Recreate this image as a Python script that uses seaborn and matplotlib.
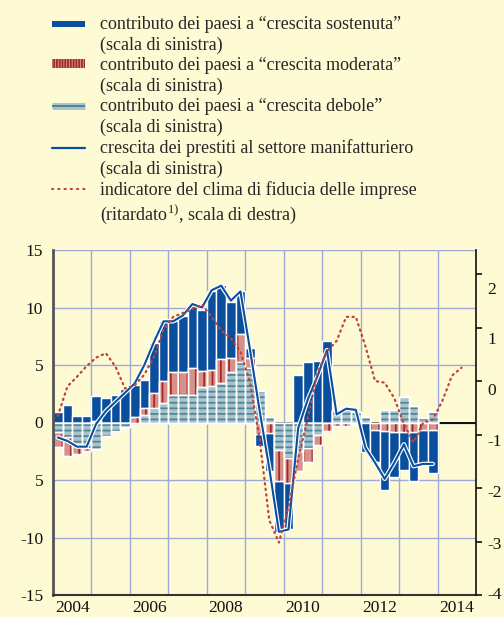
import numpy as np
import pandas as pd
import matplotlib
matplotlib.use("Agg")
import matplotlib.pyplot as plt
import matplotlib.patheffects as pe
from matplotlib.lines import Line2D
from matplotlib.patches import Patch
from matplotlib.legend_handler import HandlerTuple
import seaborn as sns

# quarterly contributions 2004Q1 - 2013Q4 (left scale)
sostenuta = [0.9, 1.5, 0.6, 0.6, 2.2, 2.1, 2.4, 2.9, 2.8, 2.4,
             4.35, 5.15, 4.45, 4.9, 5.7, 5.3, 6.8, 6.5, 4.85, 3.7,
             0.9, -1.0, -3.3, -4.4, -4.0, 4.15, 5.24, 5.36, 7.1, 0.0,
             0.0, 0.0, -2.6, -2.75, -5.1, -3.9, -3.3, -4.3, -2.95, -3.75]
moderata = [-1.3, -1.6, -0.8, -0.3, 0.1, 0.0, 0.0, 0.0, 0.45, 0.65,
            1.3, 1.95, 2.0, 2.0, 2.3, 1.45, 1.4, 2.1, 1.3, 2.4,
            0.9, -1.0, -0.95, -2.7, -2.2, -1.75, -1.15, -0.85, -0.7, -0.3,
            -0.3, -0.1, 0.0, -0.65, -0.75, -0.8, -0.8, -0.8, -0.65, -0.65]
debole = [-0.8, -1.3, -1.9, -2.2, -2.3, -1.2, -0.7, -0.4, 0.0, 0.65,
          1.25, 1.7, 2.4, 2.4, 2.4, 3.05, 3.2, 3.4, 4.35, 5.3,
          4.7, 2.7, 0.5, -2.4, -3.1, -2.5, -2.25, -1.1, 0.0, 1.1,
          1.35, 0.95, 0.5, 0.0, 1.05, 1.05, 2.2, 1.45, 0.4, 0.9]
prestiti = [-1.3, -1.6, -2.1, -2.1, -0.1, 1.0, 1.8, 2.6, 3.4, 5.0,
            7.0, 8.8, 8.8, 9.3, 10.3, 10.0, 11.5, 11.9, 10.6, 11.4,
            6.3, 1.0, -4.0, -9.5, -9.3, -0.5, 2.0, 4.0, 6.3, 0.7,
            1.2, 1.1, -2.2, -3.5, -4.9, -3.5, -1.9, -3.8, -3.6, -3.6]
# business confidence indicator, lagged (right scale), 2004Q1 - 2014Q3
fiducia = [-0.65, -0.1, 0.08, 0.28, 0.44, 0.52, 0.27, -0.14, -0.08, 0.12,
           0.45, 0.96, 1.2, 1.27, 1.35, 1.43, 1.2, 0.95, 0.8, 0.55,
           -0.03, -1.1, -2.6, -3.02, -2.35, -1.45, -0.7, 0.15, 0.55, 0.75,
           1.2, 1.2, 0.65, 0.0, -0.03, -0.32, -0.8, -1.15, -0.78, -0.72,
           -0.37, 0.1, 0.25]

left_ticks = [-15, -10, -5, 0, 5, 10, 15]
left_labels = ["-15", "-10", "5", "0", "5", "10", "15"]
right_ticks = [-4, -3, -2, -1, 0, 1, 2]
right_labels = ["-4", "-3", "-2", "-1", "0", "1", "2"]
# the right-hand labels sit a little off their tick marks in the original
right_label_pos = [-3.97, -3.02, -2.06, -1.11, -0.15, 0.8, 1.74]
year_labels = ["2004", "2006", "2008", "2010", "2012", "2014"]

legend_labels = [
    "contributo dei paesi a \u201ccrescita sostenuta\u201d",
    "(scala di sinistra)",
    "contributo dei paesi a \u201ccrescita moderata\u201d",
    "(scala di sinistra)",
    "contributo dei paesi a \u201ccrescita debole\u201d",
    "(scala di sinistra)",
    "crescita dei prestiti al settore manifatturiero",
    "(scala di sinistra)",
    "indicatore del clima di fiducia delle imprese",
    "(ritardato$^{1)}$, scala di destra)",
]

BG = "#fefad4"
BLUE = "#0a4f9e"
RED_FACE = "#d6928a"
RED_LINE = "#a52a26"
GREY_FACE = "#a9c3cb"
GREY_LINE = "#4f8698"
RED_DOT = "#c0433a"
GRID = "#9ea9d8"

bar_q = pd.period_range("2004Q1", "2013Q4", freq="Q")
conf_q = pd.period_range("2004Q1", "2014Q3", freq="Q")
t_bars = np.array([p.year + (p.quarter - 0.5) / 4 for p in bar_q])
t_conf = np.array([p.year + (p.quarter - 0.5) / 4 for p in conf_q])

sns.set_style("white", {"axes.facecolor": BG, "figure.facecolor": BG})
plt.rcParams["font.family"] = ["Liberation Serif", "DejaVu Serif"]
plt.rcParams["mathtext.fontset"] = "custom"
plt.rcParams["mathtext.rm"] = "Liberation Serif"
plt.rcParams["hatch.linewidth"] = 1.3
plt.rcParams["axes.unicode_minus"] = False
FS = 12.5

fig = plt.figure(figsize=(5.04, 6.17), dpi=100)
ax = fig.add_axes([53 / 504, 1 - 595 / 617, 423 / 504, 345 / 617])
ax.set_facecolor(BG)

g = np.array(debole)
r = np.array(moderata)
b = np.array(sostenuta)
pos = lambda a: np.clip(a, 0, None)
neg = lambda a: np.clip(a, None, 0)

layers = [
    (pos(g) + pos(r) + pos(b), BLUE, None, None),
    (pos(g) + pos(r), RED_FACE, "||", RED_LINE),
    (pos(g), GREY_FACE, "---", GREY_LINE),
    (neg(g) + neg(r) + neg(b), BLUE, None, None),
    (neg(g) + neg(r), RED_FACE, "||", RED_LINE),
    (neg(g), GREY_FACE, "---", GREY_LINE),
]


def draw_layer(h, face, hatch, hcolor):
    keep = np.abs(h) > 1e-9
    d = pd.DataFrame({"t": t_bars[keep], "v": h[keep]})
    common = dict(data=d, x="t", y="v", native_scale=True, orient="x",
                  width=1, errorbar=None, ax=ax, zorder=2)
    sns.barplot(**common, facecolor=face, edgecolor="white", linewidth=1.0)
    if hatch:
        sns.barplot(**common, facecolor="none", edgecolor=hcolor,
                    linewidth=0, hatch=hatch)
        sns.barplot(**common, facecolor="none", edgecolor="white", linewidth=1.0)


for h, face, hatch, hcolor in layers:
    draw_layer(h, face, hatch, hcolor)

ax.axhline(0, color="black", lw=1.3, zorder=1)

sns.lineplot(x=t_bars, y=prestiti, ax=ax, color=BLUE, linewidth=1.5, zorder=5,
             path_effects=[pe.Stroke(linewidth=3.2, foreground="white"), pe.Normal()])

ax.set_xlim(2004, 2015)
ax.set_ylim(-15, 15)
ax.set_yticks(left_ticks)
ax.set_yticklabels(left_labels)
ax.set_xticks(np.arange(2004, 2016))
ax.set_xticklabels([])
ax.set_xticks([int(y) + 0.5 for y in year_labels], minor=True)
ax.set_xticklabels(year_labels, minor=True)
ax.tick_params(axis="y", length=0, pad=7, labelsize=FS, colors="#111111")
ax.tick_params(axis="x", which="major", direction="out", length=5, width=1.2,
               color="#333333")
ax.tick_params(axis="x", which="minor", length=0, pad=3.5, labelsize=FS,
               colors="#111111")
ax.set_axisbelow(True)
ax.grid(True, which="major", color=GRID, lw=1.0)
ax.set_xlabel("")
ax.set_ylabel("")
for s in ["top", "right"]:
    ax.spines[s].set_visible(False)
ax.spines["left"].set_color("#555555")
ax.spines["left"].set_linewidth(2)
ax.spines["bottom"].set_color("#333333")
ax.spines["bottom"].set_linewidth(1.5)

ax2 = ax.twinx()
sns.lineplot(x=t_conf, y=fiducia, ax=ax2, color=RED_DOT, linewidth=1.6,
             linestyle=(0, (0.6, 1.9)), dash_capstyle="round", zorder=6)
ax2.set_ylim(-4, 2.45)
ax2.set_yticks(right_ticks)
ax2.set_yticklabels([])
ax2.set_yticks(right_label_pos, minor=True)
ax2.set_yticklabels(right_labels, minor=True)
ax2.set_ylabel("")
ax2.tick_params(axis="y", which="major", direction="out", length=4, width=1.2,
                color="#111111")
ax2.tick_params(axis="y", which="minor", length=0, pad=8, labelsize=FS,
                colors="#111111")
for s in ["top", "left", "bottom"]:
    ax2.spines[s].set_visible(False)
ax2.spines["right"].set_color("#111111")
ax2.spines["right"].set_linewidth(1.2)
ax2.grid(False)

blank = Line2D([], [], color="none")
handles = [
    Line2D([], [], color=BLUE, lw=4.3, solid_capstyle="butt"), blank,
    Patch(facecolor=RED_FACE, edgecolor=RED_LINE, lw=0, hatch="||||||"), blank,
    (Line2D([], [], color=GREY_FACE, lw=5, solid_capstyle="butt"),
     Line2D([], [], color=GREY_LINE, lw=1.4, solid_capstyle="butt")), blank,
    Line2D([], [], color=BLUE, lw=1.6), blank,
    Line2D([], [], color=RED_DOT, lw=1.5, linestyle=(0, (0.6, 2.4)),
           dash_capstyle="round"), blank,
]
fig.legend(handles, legend_labels, loc="upper left",
           bbox_to_anchor=(52 / 504, 1 - 16 / 617), frameon=False, fontsize=13,
           handlelength=1.85, handleheight=0.33, handletextpad=0.8,
           labelspacing=0.185, borderpad=0, borderaxespad=0,
           handler_map={tuple: HandlerTuple(ndivide=1, pad=0)})

fig.savefig("out.png", dpi=100, facecolor=BG)
